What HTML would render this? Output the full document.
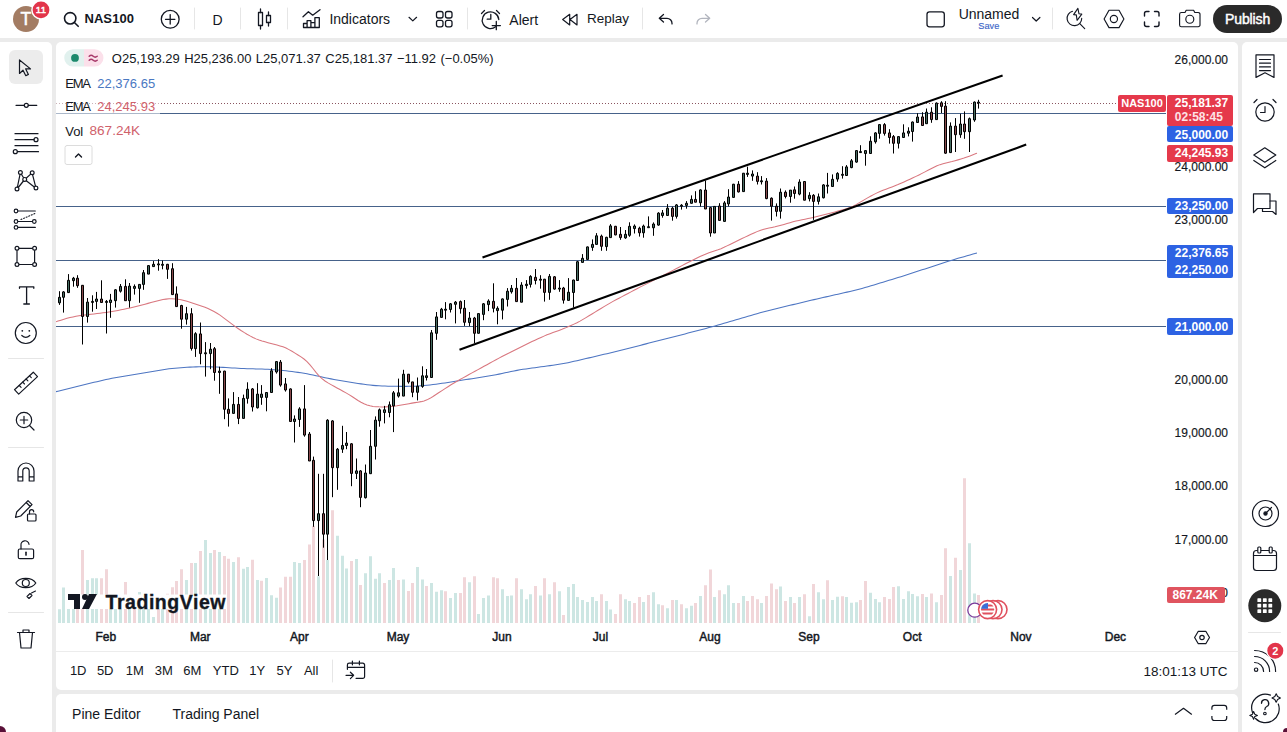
<!DOCTYPE html>
<html><head><meta charset="utf-8">
<style>
*{box-sizing:border-box}
body{margin:0;width:1287px;height:732px;overflow:hidden;position:relative;background:#ebebeb;font-family:"Liberation Sans", sans-serif;color:#131722}
.abs{position:absolute}
.panel{position:absolute;background:#fff}
.t{position:absolute;white-space:nowrap;line-height:1}
</style></head><body>
<div class="panel" style="left:0;top:0;width:1287px;height:38px"></div>
<div class="panel" style="left:0;top:42px;width:52px;height:690px;border-radius:0 5px 0 0"></div>
<div class="panel" style="left:56px;top:42px;width:1182px;height:648px;border-radius:5px"></div>
<div class="panel" style="left:1242px;top:42px;width:45px;height:690px;border-radius:5px 0 0 0"></div>
<div class="panel" style="left:56px;top:694px;width:1182px;height:38px;border-radius:5px 5px 0 0"></div>
<svg width="1287" height="732" viewBox="0 0 1287 732" style="position:absolute;left:0;top:0">
<defs><clipPath id="pane"><rect x="56" y="42" width="1110" height="581"/></clipPath></defs>
<g clip-path="url(#pane)">
<path d="M58 609.3h3V623h-3zM62 587.5h3V623h-3zM67 602.3h3V623h-3zM72 600.0h3V623h-3zM86 580.0h3V623h-3zM91 578.2h3V623h-3zM95 578.2h3V623h-3zM109 600.0h3V623h-3zM114 600.0h3V623h-3zM119 600.0h3V623h-3zM128 600.0h3V623h-3zM138 592.0h3V623h-3zM142 600.0h3V623h-3zM147 600.0h3V623h-3zM152 617.0h3V623h-3zM161 600.0h3V623h-3zM185 580.0h3V623h-3zM194 563.0h3V623h-3zM204 540.1h3V623h-3zM209 553.0h3V623h-3zM218 552.0h3V623h-3zM232 561.9h3V623h-3zM242 568.8h3V623h-3zM246 567.0h3V623h-3zM256 580.0h3V623h-3zM265 578.0h3V623h-3zM270 595.2h3V623h-3zM275 597.8h3V623h-3zM293 562.0h3V623h-3zM298 563.0h3V623h-3zM317 576.3h3V623h-3zM326 559.9h3V623h-3zM336 535.7h3V623h-3zM341 555.8h3V623h-3zM345 568.5h3V623h-3zM355 558.9h3V623h-3zM364 573.2h3V623h-3zM369 556.2h3V623h-3zM374 578.8h3V623h-3zM378 573.2h3V623h-3zM388 580.0h3V623h-3zM392 568.1h3V623h-3zM402 579.4h3V623h-3zM416 567.1h3V623h-3zM421 579.4h3V623h-3zM430 582.9h3V623h-3zM435 591.7h3V623h-3zM440 590.2h3V623h-3zM449 598.0h3V623h-3zM454 593.0h3V623h-3zM468 582.2h3V623h-3zM477 614.0h3V623h-3zM482 598.0h3V623h-3zM487 595.4h3V623h-3zM501 589.2h3V623h-3zM506 596.1h3V623h-3zM510 595.4h3V623h-3zM520 589.2h3V623h-3zM525 599.3h3V623h-3zM529 594.3h3V623h-3zM539 595.4h3V623h-3zM548 594.3h3V623h-3zM558 591.2h3V623h-3zM567 587.1h3V623h-3zM572 584.0h3V623h-3zM576 596.9h3V623h-3zM581 600.0h3V623h-3zM586 602.0h3V623h-3zM591 596.9h3V623h-3zM595 601.1h3V623h-3zM605 601.1h3V623h-3zM609 609.4h3V623h-3zM624 599.3h3V623h-3zM628 601.1h3V623h-3zM642 602.0h3V623h-3zM652 592.3h3V623h-3zM657 604.2h3V623h-3zM666 608.3h3V623h-3zM675 600.0h3V623h-3zM685 608.3h3V623h-3zM690 605.8h3V623h-3zM699 596.1h3V623h-3zM713 596.9h3V623h-3zM723 594.3h3V623h-3zM727 585.3h3V623h-3zM732 603.1h3V623h-3zM742 596.1h3V623h-3zM760 603.1h3V623h-3zM779 586.5h3V623h-3zM789 596.9h3V623h-3zM798 596.9h3V623h-3zM808 616.3h3V623h-3zM817 592.3h3V623h-3zM822 599.3h3V623h-3zM831 600.0h3V623h-3zM836 596.7h3V623h-3zM845 597.1h3V623h-3zM850 602.8h3V623h-3zM855 602.2h3V623h-3zM869 592.8h3V623h-3zM874 598.9h3V623h-3zM878 602.2h3V623h-3zM897 586.2h3V623h-3zM902 598.9h3V623h-3zM907 591.2h3V623h-3zM911 594.1h3V623h-3zM916 596.3h3V623h-3zM925 597.1h3V623h-3zM935 602.2h3V623h-3zM949 575.9h3V623h-3zM959 570.0h3V623h-3zM968 543.2h3V623h-3zM973 593.4h3V623h-3z" fill="#cde6e3"/>
<path d="M76 600.0h3V623h-3zM81 549.9h3V623h-3zM100 578.2h3V623h-3zM105 569.2h3V623h-3zM124 582.0h3V623h-3zM133 600.0h3V623h-3zM157 600.0h3V623h-3zM166 593.7h3V623h-3zM171 587.2h3V623h-3zM175 581.0h3V623h-3zM180 569.2h3V623h-3zM190 563.0h3V623h-3zM199 551.0h3V623h-3zM213 549.9h3V623h-3zM223 556.1h3V623h-3zM227 558.7h3V623h-3zM237 557.2h3V623h-3zM251 559.8h3V623h-3zM260 580.8h3V623h-3zM279 587.6h3V623h-3zM284 576.7h3V623h-3zM289 576.7h3V623h-3zM303 559.9h3V623h-3zM308 544.5h3V623h-3zM312 526.1h3V623h-3zM322 539.4h3V623h-3zM331 510.3h3V623h-3zM350 561.0h3V623h-3zM359 584.9h3V623h-3zM383 582.9h3V623h-3zM397 580.0h3V623h-3zM407 591.1h3V623h-3zM411 582.9h3V623h-3zM425 586.1h3V623h-3zM444 591.2h3V623h-3zM459 593.0h3V623h-3zM463 577.2h3V623h-3zM473 576.3h3V623h-3zM492 577.2h3V623h-3zM496 578.3h3V623h-3zM515 578.3h3V623h-3zM534 586.0h3V623h-3zM543 578.3h3V623h-3zM553 582.2h3V623h-3zM562 615.1h3V623h-3zM600 594.3h3V623h-3zM614 614.0h3V623h-3zM619 594.3h3V623h-3zM633 603.1h3V623h-3zM638 596.9h3V623h-3zM647 594.9h3V623h-3zM661 605.2h3V623h-3zM671 600.0h3V623h-3zM680 604.2h3V623h-3zM694 603.1h3V623h-3zM704 585.3h3V623h-3zM709 569.4h3V623h-3zM718 590.2h3V623h-3zM737 603.1h3V623h-3zM746 601.1h3V623h-3zM751 596.1h3V623h-3zM756 599.3h3V623h-3zM765 596.1h3V623h-3zM770 583.4h3V623h-3zM775 589.2h3V623h-3zM784 601.1h3V623h-3zM793 603.1h3V623h-3zM803 594.3h3V623h-3zM812 584.0h3V623h-3zM826 580.3h3V623h-3zM841 596.3h3V623h-3zM859 600.0h3V623h-3zM864 581.0h3V623h-3zM883 597.1h3V623h-3zM888 598.9h3V623h-3zM892 586.9h3V623h-3zM921 594.1h3V623h-3zM930 593.4h3V623h-3zM940 595.0h3V623h-3zM944 548.2h3V623h-3zM954 557.8h3V623h-3zM963 478.3h3V623h-3zM977 595.0h3V623h-3z" fill="#f1d6d9"/>
<rect x="67" y="594.5" width="160" height="14.5" fill="#fff"/>
<line x1="56" y1="113.5" x2="1166" y2="113.5" stroke="#46628a" stroke-width="1"/>
<line x1="56" y1="206.5" x2="1166" y2="206.5" stroke="#46628a" stroke-width="1"/>
<line x1="56" y1="260.5" x2="1166" y2="260.5" stroke="#46628a" stroke-width="1"/>
<line x1="56" y1="326.5" x2="1166" y2="326.5" stroke="#46628a" stroke-width="1"/>
<line x1="56" y1="103.5" x2="1118" y2="103.5" stroke="#8a5560" stroke-width="1" stroke-dasharray="1 2"/>
<path d="M55.0,391.90 L58.0,391.16 L61.0,390.42 L64.0,389.67 L67.0,388.93 L70.0,388.19 L73.0,387.45 L76.0,386.71 L79.0,385.98 L82.0,385.25 L85.0,384.52 L88.0,383.80 L91.0,383.08 L94.0,382.36 L97.0,381.66 L100.0,380.95 L103.0,380.26 L106.0,379.59 L109.0,378.94 L112.0,378.32 L115.0,377.74 L118.0,377.19 L121.0,376.66 L124.0,376.16 L127.0,375.67 L130.0,375.18 L133.0,374.69 L136.0,374.20 L139.0,373.71 L142.0,373.21 L145.0,372.70 L148.0,372.19 L151.0,371.67 L154.0,371.16 L157.0,370.65 L160.0,370.15 L163.0,369.68 L166.0,369.24 L169.0,368.84 L172.0,368.49 L175.0,368.19 L178.0,367.92 L181.0,367.69 L184.0,367.48 L187.0,367.29 L190.0,367.12 L193.0,366.97 L196.0,366.86 L199.0,366.78 L202.0,366.75 L205.0,366.76 L208.0,366.81 L211.0,366.88 L214.0,366.97 L217.0,367.09 L220.0,367.23 L223.0,367.38 L226.0,367.55 L229.0,367.72 L232.0,367.90 L235.0,368.08 L238.0,368.25 L241.0,368.41 L244.0,368.55 L247.0,368.67 L250.0,368.76 L253.0,368.84 L256.0,368.91 L259.0,368.98 L262.0,369.05 L265.0,369.15 L268.0,369.28 L271.0,369.44 L274.0,369.65 L277.0,369.90 L280.0,370.19 L283.0,370.50 L286.0,370.84 L289.0,371.20 L292.0,371.58 L295.0,371.97 L298.0,372.39 L301.0,372.84 L304.0,373.32 L307.0,373.85 L310.0,374.42 L313.0,375.04 L316.0,375.68 L319.0,376.34 L322.0,377.00 L325.0,377.65 L328.0,378.28 L331.0,378.88 L334.0,379.45 L337.0,379.99 L340.0,380.51 L343.0,381.02 L346.0,381.52 L349.0,382.00 L352.0,382.49 L355.0,382.96 L358.0,383.43 L361.0,383.88 L364.0,384.31 L367.0,384.71 L370.0,385.07 L373.0,385.37 L376.0,385.62 L379.0,385.81 L382.0,385.96 L385.0,386.08 L388.0,386.17 L391.0,386.24 L394.0,386.29 L397.0,386.33 L400.0,386.36 L403.0,386.37 L406.0,386.36 L409.0,386.33 L412.0,386.27 L415.0,386.16 L418.0,386.01 L421.0,385.80 L424.0,385.54 L427.0,385.25 L430.0,384.92 L433.0,384.56 L436.0,384.18 L439.0,383.78 L442.0,383.35 L445.0,382.91 L448.0,382.44 L451.0,381.97 L454.0,381.49 L457.0,381.01 L460.0,380.53 L463.0,380.06 L466.0,379.60 L469.0,379.14 L472.0,378.67 L475.0,378.21 L478.0,377.75 L481.0,377.29 L484.0,376.82 L487.0,376.33 L490.0,375.83 L493.0,375.30 L496.0,374.73 L499.0,374.13 L502.0,373.50 L505.0,372.84 L508.0,372.19 L511.0,371.54 L514.0,370.93 L517.0,370.36 L520.0,369.83 L523.0,369.35 L526.0,368.90 L529.0,368.47 L532.0,368.06 L535.0,367.65 L538.0,367.25 L541.0,366.85 L544.0,366.45 L547.0,366.05 L550.0,365.64 L553.0,365.22 L556.0,364.78 L559.0,364.31 L562.0,363.80 L565.0,363.24 L568.0,362.65 L571.0,362.01 L574.0,361.35 L577.0,360.67 L580.0,359.97 L583.0,359.28 L586.0,358.58 L589.0,357.88 L592.0,357.18 L595.0,356.48 L598.0,355.77 L601.0,355.07 L604.0,354.36 L607.0,353.64 L610.0,352.91 L613.0,352.18 L616.0,351.44 L619.0,350.69 L622.0,349.94 L625.0,349.18 L628.0,348.42 L631.0,347.66 L634.0,346.90 L637.0,346.15 L640.0,345.39 L643.0,344.63 L646.0,343.87 L649.0,343.11 L652.0,342.35 L655.0,341.59 L658.0,340.83 L661.0,340.07 L664.0,339.31 L667.0,338.54 L670.0,337.78 L673.0,337.00 L676.0,336.23 L679.0,335.45 L682.0,334.67 L685.0,333.89 L688.0,333.11 L691.0,332.33 L694.0,331.55 L697.0,330.77 L700.0,329.98 L703.0,329.19 L706.0,328.39 L709.0,327.59 L712.0,326.77 L715.0,325.93 L718.0,325.08 L721.0,324.21 L724.0,323.34 L727.0,322.45 L730.0,321.57 L733.0,320.68 L736.0,319.80 L739.0,318.91 L742.0,318.02 L745.0,317.14 L748.0,316.25 L751.0,315.38 L754.0,314.51 L757.0,313.67 L760.0,312.84 L763.0,312.03 L766.0,311.25 L769.0,310.49 L772.0,309.74 L775.0,309.01 L778.0,308.27 L781.0,307.54 L784.0,306.81 L787.0,306.09 L790.0,305.36 L793.0,304.63 L796.0,303.90 L799.0,303.18 L802.0,302.45 L805.0,301.74 L808.0,301.02 L811.0,300.32 L814.0,299.62 L817.0,298.93 L820.0,298.25 L823.0,297.56 L826.0,296.88 L829.0,296.21 L832.0,295.53 L835.0,294.85 L838.0,294.17 L841.0,293.49 L844.0,292.81 L847.0,292.13 L850.0,291.43 L853.0,290.72 L856.0,289.98 L859.0,289.21 L862.0,288.41 L865.0,287.58 L868.0,286.71 L871.0,285.83 L874.0,284.93 L877.0,284.02 L880.0,283.11 L883.0,282.20 L886.0,281.28 L889.0,280.37 L892.0,279.45 L895.0,278.53 L898.0,277.61 L901.0,276.68 L904.0,275.73 L907.0,274.78 L910.0,273.81 L913.0,272.83 L916.0,271.85 L919.0,270.86 L922.0,269.87 L925.0,268.88 L928.0,267.88 L931.0,266.89 L934.0,265.90 L937.0,264.91 L940.0,263.93 L943.0,262.95 L946.0,261.99 L949.0,261.05 L952.0,260.13 L955.0,259.23 L958.0,258.35 L961.0,257.49 L964.0,256.63 L967.0,255.77 L970.0,254.92 L973.0,254.07 L976.0,253.22 L977.0,252.94" fill="none" stroke="#4d75c2" stroke-width="1.05"/>
<path d="M55.0,322.09 L58.0,321.11 L61.0,320.13 L64.0,319.20 L67.0,318.35 L70.0,317.59 L73.0,316.91 L76.0,316.29 L79.0,315.73 L82.0,315.29 L85.0,314.93 L88.0,314.61 L91.0,314.30 L94.0,313.97 L97.0,313.60 L100.0,313.22 L103.0,312.82 L106.0,312.41 L109.0,311.96 L112.0,311.47 L115.0,310.95 L118.0,310.40 L121.0,309.84 L124.0,309.24 L127.0,308.61 L130.0,307.97 L133.0,307.31 L136.0,306.61 L139.0,305.86 L142.0,305.05 L145.0,304.22 L148.0,303.37 L151.0,302.54 L154.0,301.71 L157.0,300.92 L160.0,300.19 L163.0,299.59 L166.0,299.14 L169.0,298.85 L172.0,298.77 L175.0,298.90 L178.0,299.23 L181.0,299.75 L184.0,300.44 L187.0,301.28 L190.0,302.20 L193.0,303.16 L196.0,304.16 L199.0,305.19 L202.0,306.24 L205.0,307.35 L208.0,308.59 L211.0,309.99 L214.0,311.54 L217.0,313.25 L220.0,315.16 L223.0,317.31 L226.0,319.60 L229.0,321.93 L232.0,324.20 L235.0,326.38 L238.0,328.49 L241.0,330.51 L244.0,332.42 L247.0,334.21 L250.0,335.91 L253.0,337.50 L256.0,338.89 L259.0,340.04 L262.0,341.00 L265.0,341.87 L268.0,342.71 L271.0,343.51 L274.0,344.29 L277.0,345.06 L280.0,345.88 L283.0,346.84 L286.0,348.09 L289.0,349.62 L292.0,351.33 L295.0,353.12 L298.0,354.97 L301.0,356.89 L304.0,359.03 L307.0,361.59 L310.0,364.80 L313.0,368.52 L316.0,372.32 L319.0,375.80 L322.0,378.71 L325.0,381.02 L328.0,382.91 L331.0,384.62 L334.0,386.28 L337.0,387.92 L340.0,389.57 L343.0,391.22 L346.0,392.88 L349.0,394.62 L352.0,396.48 L355.0,398.46 L358.0,400.46 L361.0,402.28 L364.0,403.81 L367.0,405.00 L370.0,405.86 L373.0,406.40 L376.0,406.68 L379.0,406.83 L382.0,406.91 L385.0,406.89 L388.0,406.76 L391.0,406.53 L394.0,406.22 L397.0,405.83 L400.0,405.35 L403.0,404.81 L406.0,404.23 L409.0,403.66 L412.0,403.13 L415.0,402.63 L418.0,402.16 L421.0,401.64 L424.0,400.94 L427.0,399.86 L430.0,398.34 L433.0,396.51 L436.0,394.55 L439.0,392.56 L442.0,390.59 L445.0,388.64 L448.0,386.70 L451.0,384.80 L454.0,382.97 L457.0,381.22 L460.0,379.53 L463.0,377.87 L466.0,376.21 L469.0,374.56 L472.0,372.91 L475.0,371.26 L478.0,369.61 L481.0,367.97 L484.0,366.32 L487.0,364.67 L490.0,363.02 L493.0,361.37 L496.0,359.72 L499.0,358.10 L502.0,356.52 L505.0,354.98 L508.0,353.48 L511.0,351.98 L514.0,350.49 L517.0,349.00 L520.0,347.50 L523.0,346.00 L526.0,344.50 L529.0,343.02 L532.0,341.57 L535.0,340.16 L538.0,338.79 L541.0,337.43 L544.0,336.11 L547.0,334.85 L550.0,333.67 L553.0,332.57 L556.0,331.51 L559.0,330.43 L562.0,329.31 L565.0,328.11 L568.0,326.82 L571.0,325.49 L574.0,324.12 L577.0,322.67 L580.0,321.11 L583.0,319.41 L586.0,317.63 L589.0,315.81 L592.0,313.99 L595.0,312.16 L598.0,310.32 L601.0,308.48 L604.0,306.64 L607.0,304.83 L610.0,303.08 L613.0,301.40 L616.0,299.78 L619.0,298.19 L622.0,296.60 L625.0,295.01 L628.0,293.43 L631.0,291.85 L634.0,290.27 L637.0,288.70 L640.0,287.15 L643.0,285.62 L646.0,284.12 L649.0,282.62 L652.0,281.13 L655.0,279.63 L658.0,278.13 L661.0,276.62 L664.0,275.09 L667.0,273.53 L670.0,271.96 L673.0,270.37 L676.0,268.79 L679.0,267.20 L682.0,265.62 L685.0,264.03 L688.0,262.47 L691.0,260.93 L694.0,259.44 L697.0,257.98 L700.0,256.56 L703.0,255.21 L706.0,253.97 L709.0,252.87 L712.0,251.85 L715.0,250.85 L718.0,249.80 L721.0,248.64 L724.0,247.33 L727.0,245.90 L730.0,244.42 L733.0,242.94 L736.0,241.45 L739.0,239.99 L742.0,238.56 L745.0,237.14 L748.0,235.74 L751.0,234.35 L754.0,232.96 L757.0,231.63 L760.0,230.44 L763.0,229.47 L766.0,228.70 L769.0,228.06 L772.0,227.43 L775.0,226.78 L778.0,226.05 L781.0,225.25 L784.0,224.41 L787.0,223.54 L790.0,222.68 L793.0,221.86 L796.0,221.10 L799.0,220.42 L802.0,219.79 L805.0,219.19 L808.0,218.57 L811.0,217.92 L814.0,217.23 L817.0,216.51 L820.0,215.77 L823.0,215.03 L826.0,214.28 L829.0,213.51 L832.0,212.72 L835.0,211.90 L838.0,211.07 L841.0,210.24 L844.0,209.39 L847.0,208.50 L850.0,207.46 L853.0,206.17 L856.0,204.60 L859.0,202.86 L862.0,201.08 L865.0,199.33 L868.0,197.63 L871.0,195.97 L874.0,194.36 L877.0,192.86 L880.0,191.51 L883.0,190.30 L886.0,189.16 L889.0,188.05 L892.0,186.93 L895.0,185.78 L898.0,184.58 L901.0,183.29 L904.0,181.95 L907.0,180.57 L910.0,179.18 L913.0,177.78 L916.0,176.36 L919.0,174.91 L922.0,173.40 L925.0,171.86 L928.0,170.30 L931.0,168.74 L934.0,167.22 L937.0,165.81 L940.0,164.63 L943.0,163.70 L946.0,162.95 L949.0,162.25 L952.0,161.53 L955.0,160.73 L958.0,159.88 L961.0,158.97 L964.0,158.03 L967.0,157.01 L970.0,155.92 L973.0,154.77 L976.0,153.60 L977.0,153.22" fill="none" stroke="#d9777f" stroke-width="1.05"/>
<line x1="482.5" y1="257.5" x2="1002.6" y2="75.6" stroke="#000" stroke-width="2.1"/>
<line x1="459.5" y1="349.7" x2="1026.2" y2="144.6" stroke="#000" stroke-width="2.1"/>
<path d="M59.5 291.2V304.9M63.5 291.2V312.6M68.5 274.1V292.6M73.5 276.9V286.7M77.5 275.2V287.8M82.5 285.0V344.5M87.5 298.0V322.6M92.5 295.3V311.7M96.5 291.9V309.0M101.5 280.3V302.5M106.5 300.0V333.5M110.5 293.9V317.8M115.5 289.2V307.6M120.5 284.0V292.6M125.5 279.3V300.7M129.5 283.0V307.6M134.5 284.4V294.6M139.5 284.4V302.8M143.5 270.0V289.8M148.5 265.2V274.1M153.5 261.1V266.6M158.5 259.1V270.7M162.5 260.5V269.3M167.5 263.9V278.9M172.5 263.2V294.6M176.5 286.4V306.6M181.5 304.8V328.7M186.5 306.9V324.6M191.5 308.2V350.6M195.5 332.2V356.9M200.5 322.5V364.3M205.5 342.1V376.6M210.5 343.0V369.2M214.5 347.0V380.7M219.5 366.7V393.8M224.5 370.8V419.2M228.5 398.4V426.6M233.5 392.1V413.4M238.5 397.0V424.1M243.5 394.6V418.4M247.5 382.3V403.6M252.5 388.0V411.5M257.5 383.2V408.5M261.5 385.1V404.8M266.5 392.5V411.3M271.5 368.2V392.5M276.5 361.0V373.6M280.5 360.0V386.7M285.5 378.0V391.6M290.5 388.4V421.5M294.5 415.4V442.5M299.5 407.2V426.9M304.5 385.1V436.7M309.5 432.0V461.0M313.5 456.6V526.8M318.5 473.8V576.0M323.5 473.8V547.7M327.5 419.2V560.0M332.5 420.2V497.2M337.5 448.0V489.8M342.5 425.8V452.9M346.5 432.0V449.2M351.5 443.1V486.2M356.5 458.5V479.0M360.5 470.2V507.2M365.5 464.5V498.5M370.5 430.0V473.7M375.5 416.4V459.5M379.5 408.5V426.7M384.5 405.9V423.4M389.5 401.5V417.3M393.5 391.0V432.1M398.5 378.6V397.6M403.5 369.8V396.1M408.5 374.2V383.6M412.5 381.9V397.2M417.5 377.5V400.4M422.5 366.3V387.8M426.5 369.0V380.5M431.5 330.0V377.5M436.5 312.0V339.8M441.5 307.9V317.4M445.5 302.1V319.3M450.5 303.0V312.5M455.5 301.0V323.4M460.5 300.5V313.6M464.5 300.0V325.9M469.5 312.0V326.2M474.5 316.9V343.1M478.5 313.6V333.3M483.5 303.0V320.2M488.5 299.3V311.1M493.5 283.3V312.4M497.5 306.3V324.3M502.5 298.5V319.4M507.5 288.1V306.5M511.5 285.0V293.6M516.5 278.0V301.6M521.5 282.2V302.2M526.5 280.1V288.7M530.5 275.2V287.5M535.5 269.0V284.4M540.5 275.2V288.7M544.5 278.9V301.6M549.5 274.0V299.8M554.5 276.0V289.6M559.5 280.1V291.8M563.5 286.9V303.6M568.5 278.1V300.4M573.5 279.7V307.5M577.5 260.9V280.5M582.5 254.1V262.4M587.5 246.6V259.8M592.5 239.4V250.8M596.5 233.1V244.4M601.5 234.6V250.8M606.5 236.8V250.8M610.5 224.1V237.6M615.5 225.9V235.3M620.5 227.0V239.8M625.5 230.0V238.8M629.5 222.3V236.8M634.5 224.4V233.5M639.5 226.7V236.6M643.5 224.6V237.7M648.5 216.4V227.5M653.5 222.4V235.8M658.5 212.2V225.7M662.5 210.0V217.7M667.5 204.1V215.5M672.5 206.7V220.7M676.5 204.1V218.6M681.5 204.1V209.6M686.5 201.1V208.7M691.5 195.4V203.3M695.5 191.2V202.2M700.5 189.3V206.5M705.5 180.5V209.0M710.5 207.2V236.7M714.5 206.4V233.0M719.5 203.2V220.4M724.5 201.1V221.4M728.5 189.2V206.4M733.5 183.9V197.4M738.5 181.1V192.5M743.5 173.2V191.6M747.5 166.7V176.9M752.5 170.4V180.8M757.5 172.2V184.5M761.5 176.1V184.5M766.5 178.1V199.2M771.5 197.4V220.6M776.5 203.4V216.5M780.5 188.5V218.6M785.5 190.4V198.4M790.5 190.1V202.7M794.5 186.5V198.7M799.5 179.3V195.3M804.5 181.5V200.2M809.5 192.2V201.4M813.5 194.1V219.9M818.5 193.5V204.5M823.5 184.2V198.4M827.5 172.9V193.5M832.5 174.4V186.5M837.5 172.2V181.8M842.5 166.2V178.6M846.5 165.1V175.5M851.5 159.0V168.2M856.5 150.1V162.7M860.5 145.2V152.8M865.5 150.4V165.7M870.5 136.3V153.5M875.5 132.2V143.6M879.5 124.0V138.7M884.5 123.1V135.6M889.5 129.2V143.6M893.5 135.0V153.5M898.5 136.3V148.5M903.5 124.3V137.5M908.5 127.3V136.4M912.5 121.5V141.6M917.5 113.2V122.5M922.5 112.2V125.8M926.5 108.5V123.7M931.5 107.3V122.8M936.5 102.4V119.6M941.5 101.2V113.0M945.5 101.2V153.8M950.5 122.4V152.6M955.5 118.1V152.0M960.5 113.8V137.8M964.5 111.4V138.8M969.5 117.5V152.0M974.5 101.5V121.8M978.5 99.8V108.6" stroke="#000" stroke-width="1" fill="none"/>
<path d="M58.5 297.3h2v5.5h-2zM62.5 291.9h2v5.4h-2zM67.5 280.3h2v12.3h-2zM72.5 278.2h2v2.5h-2zM86.5 302.1h2v14.4h-2zM91.5 301.4h2v1.0h-2zM95.5 299.0h2v2.4h-2zM105.5 301.4h2v1.0h-2zM109.5 300.0h2v2.5h-2zM114.5 289.8h2v10.9h-2zM119.5 286.4h2v4.8h-2zM128.5 286.1h2v14.6h-2zM133.5 286.4h2v2.0h-2zM138.5 284.4h2v4.0h-2zM142.5 272.7h2v11.7h-2zM147.5 265.6h2v8.5h-2zM152.5 264.3h2v2.3h-2zM157.5 263.9h2v1.0h-2zM161.5 264.3h2v1.0h-2zM185.5 313.7h2v5.5h-2zM194.5 333.7h2v15.0h-2zM204.5 352.8h2v1.0h-2zM209.5 349.2h2v4.4h-2zM218.5 371.1h2v1.4h-2zM232.5 404.4h2v9.0h-2zM242.5 398.4h2v20.0h-2zM246.5 389.2h2v9.2h-2zM256.5 394.1h2v13.7h-2zM260.5 394.1h2v3.3h-2zM265.5 392.5h2v4.9h-2zM270.5 370.8h2v21.7h-2zM275.5 361.6h2v10.4h-2zM293.5 419.0h2v2.5h-2zM298.5 408.9h2v10.6h-2zM317.5 513.7h2v6.9h-2zM326.5 420.2h2v114.0h-2zM336.5 449.2h2v18.5h-2zM341.5 445.5h2v3.7h-2zM345.5 443.1h2v2.4h-2zM355.5 470.9h2v2.5h-2zM364.5 473.0h2v24.7h-2zM369.5 446.3h2v27.4h-2zM374.5 420.1h2v26.2h-2zM378.5 409.8h2v11.0h-2zM383.5 409.8h2v2.7h-2zM388.5 404.8h2v7.7h-2zM392.5 392.8h2v13.1h-2zM397.5 392.8h2v3.3h-2zM402.5 374.2h2v21.9h-2zM416.5 386.2h2v6.1h-2zM421.5 375.8h2v10.6h-2zM425.5 375.8h2v1.7h-2zM430.5 332.8h2v44.7h-2zM435.5 316.9h2v16.4h-2zM440.5 309.2h2v8.2h-2zM444.5 309.2h2v1.0h-2zM449.5 303.8h2v5.7h-2zM454.5 302.1h2v2.2h-2zM468.5 318.0h2v4.6h-2zM477.5 313.6h2v19.7h-2zM482.5 303.8h2v10.6h-2zM487.5 301.0h2v3.6h-2zM496.5 308.3h2v2.3h-2zM501.5 298.9h2v11.3h-2zM506.5 291.2h2v8.2h-2zM510.5 288.3h2v3.5h-2zM520.5 285.0h2v17.2h-2zM525.5 284.2h2v1.4h-2zM529.5 276.4h2v8.0h-2zM539.5 279.2h2v1.0h-2zM548.5 276.4h2v16.0h-2zM558.5 288.1h2v1.0h-2zM567.5 292.2h2v8.2h-2zM572.5 280.0h2v12.5h-2zM576.5 261.7h2v18.8h-2zM581.5 258.3h2v4.1h-2zM586.5 246.9h2v12.5h-2zM591.5 244.4h2v3.0h-2zM595.5 235.8h2v8.6h-2zM605.5 237.3h2v9.3h-2zM609.5 225.9h2v11.7h-2zM624.5 234.3h2v3.6h-2zM628.5 226.3h2v9.0h-2zM633.5 226.0h2v2.6h-2zM642.5 226.0h2v6.8h-2zM647.5 226.7h2v1.0h-2zM652.5 224.0h2v3.8h-2zM657.5 213.1h2v12.0h-2zM661.5 212.9h2v2.6h-2zM666.5 208.2h2v7.3h-2zM675.5 204.9h2v11.5h-2zM680.5 205.2h2v1.0h-2zM685.5 203.3h2v2.1h-2zM690.5 199.4h2v3.9h-2zM699.5 189.9h2v12.9h-2zM713.5 206.4h2v26.6h-2zM723.5 202.9h2v18.5h-2zM727.5 197.0h2v6.9h-2zM732.5 184.2h2v13.2h-2zM742.5 173.2h2v18.4h-2zM746.5 173.2h2v1.2h-2zM751.5 174.0h2v2.1h-2zM760.5 180.8h2v1.0h-2zM779.5 192.2h2v19.1h-2zM789.5 190.1h2v6.4h-2zM798.5 182.0h2v12.1h-2zM808.5 195.3h2v3.4h-2zM817.5 196.8h2v4.6h-2zM822.5 184.9h2v12.9h-2zM826.5 185.2h2v1.0h-2zM831.5 179.3h2v7.2h-2zM836.5 173.4h2v5.7h-2zM841.5 174.3h2v1.0h-2zM845.5 166.9h2v8.6h-2zM850.5 160.8h2v6.8h-2zM855.5 150.6h2v11.5h-2zM859.5 151.6h2v1.0h-2zM864.5 150.6h2v2.9h-2zM869.5 141.2h2v12.3h-2zM874.5 132.9h2v8.9h-2zM878.5 124.6h2v8.8h-2zM897.5 136.6h2v6.7h-2zM902.5 132.9h2v4.6h-2zM907.5 131.2h2v2.0h-2zM911.5 122.0h2v9.5h-2zM916.5 117.0h2v5.5h-2zM925.5 112.2h2v11.5h-2zM935.5 103.1h2v16.5h-2zM949.5 126.1h2v26.5h-2zM959.5 124.0h2v10.7h-2zM968.5 118.7h2v13.0h-2zM973.5 102.1h2v17.9h-2zM977.5 102.1h2v1.0h-2z" fill="#466c62" stroke="#000" stroke-width="1"/>
<path d="M76.5 278.2h2v7.5h-2zM81.5 285.3h2v31.2h-2zM100.5 299.0h2v3.5h-2zM124.5 286.4h2v14.3h-2zM166.5 264.3h2v5.0h-2zM171.5 268.7h2v25.9h-2zM175.5 293.9h2v12.7h-2zM180.5 305.5h2v13.7h-2zM190.5 313.7h2v34.8h-2zM199.5 333.9h2v19.7h-2zM213.5 348.7h2v23.8h-2zM223.5 371.1h2v38.2h-2zM227.5 409.3h2v4.1h-2zM237.5 404.4h2v14.0h-2zM251.5 388.9h2v18.1h-2zM279.5 362.1h2v23.0h-2zM284.5 383.9h2v6.1h-2zM289.5 388.9h2v32.6h-2zM303.5 408.9h2v26.2h-2zM308.5 434.0h2v27.0h-2zM312.5 460.3h2v60.3h-2zM322.5 513.7h2v20.5h-2zM331.5 420.9h2v46.8h-2zM350.5 443.8h2v29.6h-2zM359.5 470.9h2v26.5h-2zM407.5 374.2h2v7.7h-2zM411.5 381.9h2v10.4h-2zM459.5 301.6h2v7.1h-2zM463.5 308.2h2v14.1h-2zM473.5 318.0h2v15.3h-2zM492.5 301.3h2v7.0h-2zM515.5 288.3h2v13.3h-2zM534.5 277.3h2v3.2h-2zM543.5 279.2h2v13.2h-2zM553.5 276.8h2v12.3h-2zM562.5 288.0h2v12.2h-2zM600.5 236.1h2v10.2h-2zM614.5 226.3h2v8.6h-2zM619.5 234.3h2v3.3h-2zM638.5 228.2h2v4.6h-2zM671.5 208.2h2v8.2h-2zM694.5 199.4h2v2.8h-2zM704.5 190.0h2v19.0h-2zM709.5 207.6h2v25.4h-2zM718.5 206.0h2v14.4h-2zM737.5 184.2h2v7.7h-2zM756.5 176.1h2v5.3h-2zM765.5 181.1h2v17.5h-2zM770.5 198.2h2v8.0h-2zM775.5 206.2h2v5.2h-2zM784.5 192.2h2v4.3h-2zM793.5 189.8h2v3.7h-2zM803.5 181.5h2v18.7h-2zM812.5 195.3h2v6.1h-2zM883.5 124.6h2v8.8h-2zM888.5 132.9h2v4.6h-2zM892.5 136.6h2v6.7h-2zM921.5 116.9h2v8.6h-2zM930.5 112.2h2v7.4h-2zM940.5 102.8h2v3.6h-2zM944.5 106.1h2v47.1h-2zM954.5 126.1h2v8.6h-2zM963.5 124.0h2v7.7h-2z" fill="#88494c" stroke="#000" stroke-width="1"/>
<rect x="56" y="96" width="104" height="22" fill="#fff" fill-opacity="0.55"/>
</g>
</svg>
<div class="abs" style="left:67px;top:592px;width:160px;height:20px">
<svg width="30" height="20" viewBox="0 0 30 20" style="position:absolute;left:1px;top:0px"><path d="M0 2h12v15h-6V8H0z" fill="#131722"/><circle cx="17" cy="5" r="3" fill="#131722"/><path d="M21 2h8l-8 15h-7z" fill="#131722"/></svg>
<div class="t" style="left:38.5px;top:0.5px;font-size:19.5px;font-weight:700;letter-spacing:0.55px;color:#131722;-webkit-text-stroke:0.35px #131722">TradingView</div></div>
<svg width="1287" height="732" viewBox="0 0 1287 732" style="position:absolute;left:0;top:0" fill="none" stroke="#131722" stroke-width="1.2" stroke-linecap="round" stroke-linejoin="round">
<circle cx="26" cy="19" r="13" fill="#a37c63" stroke="none"/>
<circle cx="41" cy="9.9" r="9.8" fill="#fff" stroke="none"/>
<circle cx="41" cy="9.9" r="8.4" fill="#e2354a" stroke="none"/>
<circle cx="70.2" cy="18.3" r="5.7" stroke-width="1.6"/><path d="M74.4 22.5l3.8 3.8" stroke-width="1.6"/>
<circle cx="170.2" cy="19.3" r="8.9" stroke-width="1.3"/><path d="M170.2 14.6v9.4M165.5 19.3h9.4" stroke-width="1.3"/>
<path d="M194.5 8v21" stroke="#e6e6e6" stroke-width="1"/>
<path d="M240.5 8v21" stroke="#e6e6e6" stroke-width="1"/>
<path d="M287.5 8v21" stroke="#e6e6e6" stroke-width="1"/>
<path d="M467.5 8v21" stroke="#e6e6e6" stroke-width="1"/>
<path d="M642.5 8v21" stroke="#e6e6e6" stroke-width="1"/>
<path d="M1052.5 8v21" stroke="#e6e6e6" stroke-width="1"/>
<rect x="258.5" y="12.5" width="4" height="13" stroke-width="1.3"/><path d="M260.5 9v3.5M260.5 25.5V29" stroke-width="1.3"/>
<rect x="266.5" y="15.5" width="4" height="7" stroke-width="1.3"/><path d="M268.5 12v3.5M268.5 22.5V26" stroke-width="1.3"/>
<path d="M303 16.7l5.4-5 4.3 3.5 7.3-5.5" stroke-width="1.3"/>
<path d="M303.5 27.5v-4h3.6v4M307.1 27.5v-6.8h3.8v6.8M310.9 27.5v-4.8h4v4.8M314.9 27.5v-9.8h4.4v9.8zM303.5 27.5h15.8" stroke-width="1.3"/>
<path d="M409 17.3l3.8 3.6 3.8-3.6" stroke-width="1.2"/>
<rect x="436.5" y="11.5" width="6.5" height="6.5" rx="2" stroke-width="1.3"/>
<rect x="445.5" y="11.5" width="6.5" height="6.5" rx="2" stroke-width="1.3"/>
<rect x="436.5" y="20.3" width="6.5" height="6.5" rx="2" stroke-width="1.3"/>
<rect x="445.5" y="20.3" width="6.5" height="6.5" rx="2" stroke-width="1.3"/>
<path d="M495.6 26.8A8.3 8.3 0 1 1 498.8 19.5" stroke-width="1.3"/>
<path d="M481.5 13.5l3-3M499.5 13.5l-3-3" stroke-width="1.3"/>
<path d="M490.8 14.5v4.7h-3.6" stroke-width="1.3"/>
<path d="M496.3 21.5v8.2M492.2 25.6h8.2" stroke-width="1.3"/>
<path d="M569.7 14.3l-7 5.3 7 5.3zM577 14.3l-7 5.3 7 5.3z" stroke-width="1.2"/>
<path d="M663.5 14.5l-4.2 3.8 4.2 3.8M659.5 18.3h7.5a5 5 0 0 1 5 5v0.6" stroke-width="1.3"/>
<path d="M705.5 14.5l4.2 3.8-4.2 3.8M709.5 18.3h-7.5a5 5 0 0 0-5 5v0.6" stroke="#b2b5be" stroke-width="1.3"/>
<rect x="927" y="11.8" width="17.3" height="15" rx="2.5" stroke-width="1.3"/>
<path d="M1032.5 17.5l3.7 3.5 3.7-3.5" stroke-width="1.2"/>
<path d="M1081.7 18.4A7.3 7.3 0 1 1 1072.5 11.3" stroke-width="1.15"/><path d="M1079.8 23.6l4.9 5" stroke-width="1.15"/>
<path d="M1077.9 8.4L1073.6 14.6L1076.3 14.9L1077.1 20.3L1081.8 14.1L1079 13.8z" stroke-width="1.1"/>
<path d="M1109 10.25h10l4.9 8.7-4.9 8.7h-10l-4.9-8.7z" stroke-width="1.15"/><circle cx="1113.9" cy="18.95" r="3.6" stroke-width="1.15"/>
<path d="M1144.5 16v-2.5a2 2 0 0 1 2-2h2.5M1154.5 11.5h2.5a2 2 0 0 1 2 2V16M1159 22v2.5a2 2 0 0 1-2 2h-2.5M1149 26.5h-2.5a2 2 0 0 1-2-2V22" stroke-width="1.4"/>
<path d="M1179.6 14.3a1.8 1.8 0 0 1 1.8-1.8h3.6l1.2-2.3h7.4l1.2 2.3h3.4a1.8 1.8 0 0 1 1.8 1.8v10.6a1.8 1.8 0 0 1-1.8 1.8h-16.8a1.8 1.8 0 0 1-1.8-1.8z" stroke-width="1.15"/><circle cx="1189.8" cy="19.2" r="4" stroke-width="1.15"/>
<rect x="1213" y="5" width="69" height="28" rx="14" fill="#2a2a2a" stroke="none"/>
<rect x="9" y="50" width="34" height="34" rx="6" fill="#ececec" stroke="none"/>
<path d="M19.5 60v13.5l3.5-3.3 2.8 5.5 2.6-1.3-2.7-5.5h4.8z" stroke-width="1.2"/>
<path d="M16 105.3h8.3M28.3 105.3h8.5" stroke-width="1.2"/><circle cx="26.3" cy="105.3" r="2" stroke-width="1.2"/>
<path d="M15 133.7h23M15 139.7h19M15 145.7h23M17.5 151.7h21" stroke-width="1.2"/><circle cx="36" cy="139.7" r="2" stroke-width="1.2"/><circle cx="15.3" cy="151.7" r="2" stroke-width="1.2"/>
<path d="M17 189l3.4-16.3 4.3 6.8 7.4-6.6 3.8 15M17 189l7.7-9.5 11.2 8.8" stroke-width="1.2"/>
<circle cx="17" cy="189" r="1.9" fill="#fff" stroke-width="1.2"/>
<circle cx="20.4" cy="172.5" r="1.9" fill="#fff" stroke-width="1.2"/>
<circle cx="24.7" cy="179.4" r="1.9" fill="#fff" stroke-width="1.2"/>
<circle cx="32.2" cy="172.8" r="1.9" fill="#fff" stroke-width="1.2"/>
<circle cx="36" cy="188" r="1.9" fill="#fff" stroke-width="1.2"/>
<path d="M17.8 211h17.5M17.8 221.5h14.5M17.8 227.4h17.5" stroke-width="1.2"/><path d="M21 219.5l14-6" stroke-width="1.1" stroke-dasharray="1 1.8"/>
<circle cx="16" cy="211" r="1.8" fill="#fff" stroke-width="1.2"/>
<circle cx="16" cy="221.5" r="1.8" fill="#fff" stroke-width="1.2"/>
<circle cx="34.3" cy="221.5" r="1.8" fill="#fff" stroke-width="1.2"/>
<circle cx="16" cy="227.4" r="1.8" fill="#fff" stroke-width="1.2"/>
<rect x="17" y="248.3" width="17.6" height="16.2" stroke-width="1.2"/>
<circle cx="17" cy="248.3" r="1.9" fill="#fff" stroke-width="1.2"/>
<circle cx="34.6" cy="248.3" r="1.9" fill="#fff" stroke-width="1.2"/>
<circle cx="17" cy="264.5" r="1.9" fill="#fff" stroke-width="1.2"/>
<circle cx="34.6" cy="264.5" r="1.9" fill="#fff" stroke-width="1.2"/>
<path d="M19.5 288.3v-1.5h14.3v1.5M26.6 286.8v17.2M23.8 304h5.6" stroke-width="1.3"/>
<circle cx="25.8" cy="333" r="10.5" stroke-width="1.2"/><circle cx="22.3" cy="330.8" r="0.9" fill="#131722" stroke="none"/><circle cx="29.3" cy="330.8" r="0.9" fill="#131722" stroke="none"/><path d="M21.8 335.5q4 3.6 8 0" stroke-width="1.2"/>
<path d="M8.5 358.5h35" stroke="#e6e6e6" stroke-width="1"/>
<path d="M8.5 447.5h35" stroke="#e6e6e6" stroke-width="1"/>
<path d="M8.5 612.5h35" stroke="#e6e6e6" stroke-width="1"/>
<path d="M14.5 389.7l18.8-17.5 4.2 4.4-18.8 17.5z" stroke-width="1.2"/><path d="M19.3 385.5l1.8 1.8M22.7 382.2l1.8 1.8M26.1 379l1.8 1.8M29.5 375.8l1.8 1.8" stroke-width="1.1"/>
<circle cx="24" cy="420" r="7.7" stroke-width="1.2"/><path d="M29.5 425.5l4.5 4.5M24 416.3v7.4M20.3 420h7.4" stroke-width="1.2"/>
<path d="M18 481V471a8 8 0 0 1 16 0v10h-4.8v-10a3.2 3.2 0 0 0-6.4 0v10zM18 476.8h4.8M29.2 476.8H34" stroke-width="1.2"/>
<path d="M15.5 517.3l1.2-5.3 11.3-11.3 4 4-11.3 11.3z M26.2 502.5l4 4" stroke-width="1.2"/>
<rect x="27.5" y="514" width="8.5" height="7" rx="1" stroke-width="1.2"/><path d="M29.5 514v-2.2a2.1 2.1 0 0 1 4.2 0" stroke-width="1.2"/>
<rect x="18.3" y="549" width="15.3" height="9.7" rx="1.5" stroke-width="1.2"/><path d="M21 549v-3.7a4 4 0 0 1 8 -1" stroke-width="1.2"/><path d="M26 552.3v2.8" stroke-width="1.6"/>
<path d="M15.8 583a11 8 0 0 1 20 0a11 8 0 0 1 -20 0z" stroke-width="1.2"/><circle cx="25.8" cy="583" r="3.5" stroke-width="1.2"/><path d="M27 596.5l3-3 2 2-3 3zM31.5 593l4-2" stroke-width="1.1"/>
<path d="M17.5 632.5h17M23 632.5v-2.5h6v2.5M19.5 632.5l1.5 15.5h10l1.5-15.5" stroke-width="1.2"/>
<path d="M1256 54.8h18v22.6l-9-4.6-9 4.6z" stroke-width="1.2"/><path d="M1259.5 59.5h11M1259.5 63.2h11M1259.5 66.9h11M1259.5 70.6h11" stroke-width="1.2"/>
<circle cx="1265" cy="112" r="9.2" stroke-width="1.2"/><path d="M1254 102.5l3-3M1276 102.5l-3-3M1265 106.5v6h-4.5" stroke-width="1.2"/>
<path d="M1264.8 147.8l11 7.2-11 7.2-11-7.2z" stroke-width="1.2"/><path d="M1253.8 160.5l11 7.3 11-7.3" stroke-width="1.2"/>
<path d="M1253.5 193.8h16.5v14.7h-12.5l-4 4z" stroke-width="1.2"/><path d="M1270 201h6v13.5l-3.5-3h-10v-3" stroke-width="1.2"/>
<circle cx="1265.5" cy="513.5" r="13" stroke-width="1.2"/><circle cx="1265.5" cy="513.5" r="6.5" stroke-width="1.2"/><circle cx="1265.5" cy="513.5" r="1.6" fill="#131722"/><path d="M1265.5 513.5l6-6" stroke-width="1.2"/>
<rect x="1253.5" y="550.5" width="23" height="20" rx="3" stroke-width="1.2"/><path d="M1253.5 555.5h23" stroke-width="1.2"/><rect x="1257.8" y="547" width="3" height="6" rx="1" fill="#fff" stroke-width="1.2"/><rect x="1269.2" y="547" width="3" height="6" rx="1" fill="#fff" stroke-width="1.2"/>
<circle cx="1264.8" cy="605.7" r="16.5" fill="#2a2a2a" stroke="none"/>
<rect x="1257.4" y="598.3" width="3.8" height="3.8" rx="0.6" fill="#fff" stroke="none"/>
<rect x="1257.4" y="603.8" width="3.8" height="3.8" rx="0.6" fill="#fff" stroke="none"/>
<rect x="1257.4" y="609.3" width="3.8" height="3.8" rx="0.6" fill="#fff" stroke="none"/>
<rect x="1262.9" y="598.3" width="3.8" height="3.8" rx="0.6" fill="#fff" stroke="none"/>
<rect x="1262.9" y="603.8" width="3.8" height="3.8" rx="0.6" fill="#fff" stroke="none"/>
<rect x="1262.9" y="609.3" width="3.8" height="3.8" rx="0.6" fill="#fff" stroke="none"/>
<rect x="1268.4" y="598.3" width="3.8" height="3.8" rx="0.6" fill="#fff" stroke="none"/>
<rect x="1268.4" y="603.8" width="3.8" height="3.8" rx="0.6" fill="#fff" stroke="none"/>
<rect x="1268.4" y="609.3" width="3.8" height="3.8" rx="0.6" fill="#fff" stroke="none"/>
<path d="M1248.5 632.5h32" stroke="#e6e6e6" stroke-width="1"/>
<circle cx="1256.1" cy="669.7" r="1.7" stroke-width="1.2"/><path d="M1254.6 662.5a9 9 0 0 1 9 9M1254.6 656.5a15 15 0 0 1 15 15M1254.6 650.5a21 21 0 0 1 21 21" stroke-width="1.2"/>
<circle cx="1275.3" cy="650.7" r="9.3" fill="#fff" stroke="none"/><circle cx="1275.3" cy="650.7" r="8" fill="#e2354a" stroke="none"/>
<path d="M1270.5 695.1A13.8 13.8 0 0 0 1252.5 712.5M1255.5 718.5A13.8 13.8 0 0 0 1278.3 704" stroke-width="1.2"/>
<path d="M1261.5 703.3a3.6 3.6 0 1 1 5.2 3.2c-1.3.6-1.8 1.4-1.8 3" stroke-width="1.3"/><circle cx="1264.9" cy="713.5" r="1.3" stroke-width="1.1"/>
<path d="M1276.2 693.8l1.4 2.8 2.8 1.4-2.8 1.4-1.4 2.8-1.4-2.8-2.8-1.4 2.8-1.4z M1253.6 711.6l1.2 2.6 2.6 1.2-2.6 1.2-1.2 2.6-1.2-2.6-2.6-1.2 2.6-1.2z" stroke-width="1.1"/>
<path d="M72.9 49.3h11.1v17.3h-11.1a8.65 8.65 0 0 1 0-17.3z" fill="#e1f1ee" stroke="none"/><path d="M84 49.3h10.8a8.65 8.65 0 0 1 0 17.3h-10.8z" fill="#fbe0ea" stroke="none"/>
<circle cx="75" cy="57.9" r="3.9" fill="#1b8a6c" stroke="none"/>
<path d="M89.2 56.2q2-1.8 4 0t4 0M89.2 60.2q2-1.8 4 0t4 0" stroke="#a8396a" stroke-width="1.5"/>
<rect x="65" y="145.5" width="27" height="19" rx="2" stroke="#dcdcdc" stroke-width="1" fill="#fff"/><path d="M75.5 157l3-3 3 3" stroke-width="1.4"/>
<path d="M56 651.5h1182" stroke="#ececec" stroke-width="1"/>
<path d="M1198.3 631.3h7.5l3.7 6.2-3.7 6.2h-7.5l-3.7-6.2z" stroke-width="1.2"/><circle cx="1202" cy="637.5" r="2.2" stroke-width="1.2"/>
<path d="M332.5 660v22" stroke="#e6e6e6" stroke-width="1"/>
<path d="M347.4 669.3v-4.3a1.8 1.8 0 0 1 1.8-1.8h13.6a1.8 1.8 0 0 1 1.8 1.8v11.6a1.8 1.8 0 0 1-1.8 1.8h-6.7M347.4 667.4h17.2M352.4 661v3.8M359.4 661v3.8M346 675.3h7.6M350.4 672.2l3.2 3.1-3.2 3.3" stroke-width="1.2"/>
<path d="M1175 714.6l8.5-6.3 8.3 6.3" stroke-width="1.2" stroke-linecap="butt"/>
<path d="M1211.9 709.7v-1.9a2.5 2.5 0 0 1 2.5-2.5h9.8a2.5 2.5 0 0 1 2.5 2.5v1.9M1226.7 715.9v2.1a2.5 2.5 0 0 1-2.5 2.5h-9.8a2.5 2.5 0 0 1-2.5-2.5v-2.1" stroke-width="1.2" stroke-linecap="butt"/>
<circle cx="998" cy="609.6" r="9" fill="#fff" stroke="#e0505e" stroke-width="1.6"/>
<circle cx="993" cy="609.6" r="9" fill="#fff" stroke="#e0505e" stroke-width="1.6"/>
<circle cx="974.8" cy="610.2" r="7" fill="#fff" stroke="#7a3a9a" stroke-width="1.3"/>
<circle cx="987.6" cy="609.6" r="9" fill="#fff" stroke="#e0505e" stroke-width="1.6"/>
<clipPath id="flag"><circle cx="987.6" cy="609.6" r="6.6"/></clipPath><g clip-path="url(#flag)" stroke="none"><rect x="980" y="602" width="16" height="16" fill="#fff"/><rect x="980" y="604.5" width="16" height="2" fill="#e0505e"/><rect x="980" y="608.5" width="16" height="2" fill="#e0505e"/><rect x="980" y="612.5" width="16" height="2" fill="#e0505e"/><rect x="980" y="602" width="8" height="6.8" fill="#3b6fd8"/></g>
<circle cx="0" cy="732" r="6" fill="#5a1038" stroke="none"/><circle cx="1287" cy="732" r="4" fill="#5a1038" stroke="none"/>
</svg>
<div class="t" style="top:11.17px;font-size:17.5px;left:-174.20px;width:400px;text-align:center;color:#fff;-webkit-text-stroke:0.5px #fff;">T</div>
<div class="t" style="top:5.02px;font-size:9.5px;left:-159.00px;width:400px;text-align:center;color:#fff;letter-spacing:0.3px;-webkit-text-stroke:0.45px #fff;">11</div>
<div class="t" style="top:12.43px;font-size:13px;left:84.40px;font-weight:700;letter-spacing:0.1px;">NAS100</div>
<div class="t" style="top:12.55px;font-size:14px;left:17.50px;width:400px;text-align:center;">D</div>
<div class="t" style="top:12.25px;font-size:14px;left:329.40px;">Indicators</div>
<div class="t" style="top:12.55px;font-size:14px;left:509.30px;">Alert</div>
<div class="t" style="top:12.29px;font-size:13.5px;left:587.00px;">Replay</div>
<div class="t" style="top:7.45px;font-size:14px;left:789.00px;width:400px;text-align:center;">Unnamed</div>
<div class="t" style="top:22.17px;font-size:9.2px;left:788.80px;width:400px;text-align:center;color:#3d66c8;-webkit-text-stroke:0.15px #3d66c8;">Save</div>
<div class="t" style="top:12.25px;font-size:14px;left:1047.60px;width:400px;text-align:center;color:#fff;letter-spacing:-0.1px;-webkit-text-stroke:0.45px #fff;">Publish</div>
<div class="t" style="top:52.33px;font-size:13px;left:111.80px;word-spacing:0.8px;">O25,193.29 H25,236.00 L25,071.37 C25,181.37 −11.92 (−0.05%)</div>
<div class="t" style="top:76.93px;font-size:13px;left:65.20px;letter-spacing:-1.2px;">EMA</div>
<div class="t" style="top:76.93px;font-size:13px;left:97.30px;color:#4a78c2;">22,376.65</div>
<div class="t" style="top:100.23px;font-size:13px;left:65.20px;letter-spacing:-1.2px;">EMA</div>
<div class="t" style="top:100.23px;font-size:13px;left:97.30px;color:#d0616b;">24,245.93</div>
<div class="t" style="top:124.53px;font-size:13px;left:65.20px;">Vol</div>
<div class="t" style="top:124.24px;font-size:13.6px;left:89.50px;color:#d0616b;">867.24K</div>
<div class="t" style="top:54.02px;font-size:12px;left:828.00px;width:400px;text-align:right;-webkit-text-stroke:0.15px #131722;">26,000.00</div>
<div class="t" style="top:160.82px;font-size:12px;left:828.00px;width:400px;text-align:right;-webkit-text-stroke:0.15px #131722;">24,000.00</div>
<div class="t" style="top:214.12px;font-size:12px;left:828.00px;width:400px;text-align:right;-webkit-text-stroke:0.15px #131722;">23,000.00</div>
<div class="t" style="top:373.82px;font-size:12px;left:828.00px;width:400px;text-align:right;-webkit-text-stroke:0.15px #131722;">20,000.00</div>
<div class="t" style="top:427.12px;font-size:12px;left:828.00px;width:400px;text-align:right;-webkit-text-stroke:0.15px #131722;">19,000.00</div>
<div class="t" style="top:480.42px;font-size:12px;left:828.00px;width:400px;text-align:right;-webkit-text-stroke:0.15px #131722;">18,000.00</div>
<div class="t" style="top:533.72px;font-size:12px;left:828.00px;width:400px;text-align:right;-webkit-text-stroke:0.15px #131722;">17,000.00</div>
<div class="t" style="top:587.02px;font-size:12px;left:828.00px;width:400px;text-align:right;-webkit-text-stroke:0.15px #131722;">16,000.00</div>
<div class="abs" style="left:1118.2px;top:95.1px;width:47.59999999999991px;height:16.60000000000001px;background:#e5394b;border-radius:2px"></div>
<div class="t" style="top:98.00px;font-size:11px;left:942.00px;width:400px;text-align:center;font-weight:700;color:#fff;">NAS100</div>
<div class="abs" style="left:1167.2px;top:95.1px;width:65.5px;height:30.60000000000001px;background:#e5394b;border-radius:2px"></div>
<div class="t" style="top:97.02px;font-size:12px;left:1174.80px;font-weight:700;color:#fff;">25,181.37</div>
<div class="t" style="top:110.62px;font-size:12px;left:1174.80px;font-weight:700;color:#fde3e6;">02:58:45</div>
<div class="abs" style="left:1167.2px;top:126.1px;width:65.5px;height:16.400000000000006px;background:#2d62e3;border-radius:2px"></div>
<div class="t" style="top:128.52px;font-size:12px;left:1174.80px;font-weight:700;color:#fff;">25,000.00</div>
<div class="abs" style="left:1167.2px;top:145.3px;width:65.5px;height:16.399999999999977px;background:#e5394b;border-radius:2px"></div>
<div class="t" style="top:147.42px;font-size:12px;left:1174.80px;font-weight:700;color:#fff;">24,245.93</div>
<div class="abs" style="left:1167.2px;top:198px;width:65.5px;height:15.5px;background:#2d62e3;border-radius:2px"></div>
<div class="t" style="top:200.12px;font-size:12px;left:1174.80px;font-weight:700;color:#fff;">23,250.00</div>
<div class="abs" style="left:1167.2px;top:245.3px;width:65.5px;height:33.0px;background:#2d62e3;border-radius:2px"></div>
<div class="t" style="top:247.22px;font-size:12px;left:1174.80px;font-weight:700;color:#fff;">22,376.65</div>
<div class="t" style="top:263.72px;font-size:12px;left:1174.80px;font-weight:700;color:#fff;">22,250.00</div>
<div class="abs" style="left:1167.2px;top:317.9px;width:65.5px;height:16.700000000000045px;background:#2d62e3;border-radius:2px"></div>
<div class="t" style="top:320.62px;font-size:12px;left:1174.80px;font-weight:700;color:#fff;">21,000.00</div>
<div class="abs" style="left:1167.2px;top:586.7px;width:57.799999999999955px;height:16.5px;background:#e0545f;border-radius:2px"></div>
<div class="t" style="top:589.32px;font-size:12px;left:1172.50px;font-weight:700;color:#fff;">867.24K</div>
<div class="t" style="top:631.42px;font-size:12px;left:-94.20px;width:400px;text-align:center;-webkit-text-stroke:0.45px #131722;">Feb</div>
<div class="t" style="top:631.42px;font-size:12px;left:0.30px;width:400px;text-align:center;-webkit-text-stroke:0.45px #131722;">Mar</div>
<div class="t" style="top:631.42px;font-size:12px;left:99.30px;width:400px;text-align:center;-webkit-text-stroke:0.45px #131722;">Apr</div>
<div class="t" style="top:631.42px;font-size:12px;left:198.00px;width:400px;text-align:center;-webkit-text-stroke:0.45px #131722;">May</div>
<div class="t" style="top:631.42px;font-size:12px;left:302.00px;width:400px;text-align:center;-webkit-text-stroke:0.45px #131722;">Jun</div>
<div class="t" style="top:631.42px;font-size:12px;left:400.50px;width:400px;text-align:center;-webkit-text-stroke:0.45px #131722;">Jul</div>
<div class="t" style="top:631.42px;font-size:12px;left:509.90px;width:400px;text-align:center;-webkit-text-stroke:0.45px #131722;">Aug</div>
<div class="t" style="top:631.42px;font-size:12px;left:608.90px;width:400px;text-align:center;-webkit-text-stroke:0.45px #131722;">Sep</div>
<div class="t" style="top:631.42px;font-size:12px;left:712.20px;width:400px;text-align:center;-webkit-text-stroke:0.45px #131722;">Oct</div>
<div class="t" style="top:631.42px;font-size:12px;left:820.90px;width:400px;text-align:center;-webkit-text-stroke:0.45px #131722;">Nov</div>
<div class="t" style="top:631.42px;font-size:12px;left:915.40px;width:400px;text-align:center;-webkit-text-stroke:0.45px #131722;">Dec</div>
<div class="t" style="top:664.69px;font-size:13.5px;left:827.50px;width:400px;text-align:right;">18:01:13 UTC</div>
<div class="t" style="top:664.43px;font-size:13px;left:69.90px;">1D</div>
<div class="t" style="top:664.43px;font-size:13px;left:96.90px;">5D</div>
<div class="t" style="top:664.43px;font-size:13px;left:125.80px;">1M</div>
<div class="t" style="top:664.43px;font-size:13px;left:154.70px;">3M</div>
<div class="t" style="top:664.43px;font-size:13px;left:183.30px;">6M</div>
<div class="t" style="top:664.43px;font-size:13px;left:212.80px;">YTD</div>
<div class="t" style="top:664.43px;font-size:13px;left:249.20px;">1Y</div>
<div class="t" style="top:664.43px;font-size:13px;left:276.60px;">5Y</div>
<div class="t" style="top:664.43px;font-size:13px;left:303.90px;">All</div>
<div class="t" style="top:645.70px;font-size:11px;left:1075.30px;width:400px;text-align:center;font-weight:700;color:#fff;">2</div>
<div class="t" style="top:706.65px;font-size:14px;left:72.10px;">Pine Editor</div>
<div class="t" style="top:706.65px;font-size:14px;left:172.50px;">Trading Panel</div>

</body></html>
